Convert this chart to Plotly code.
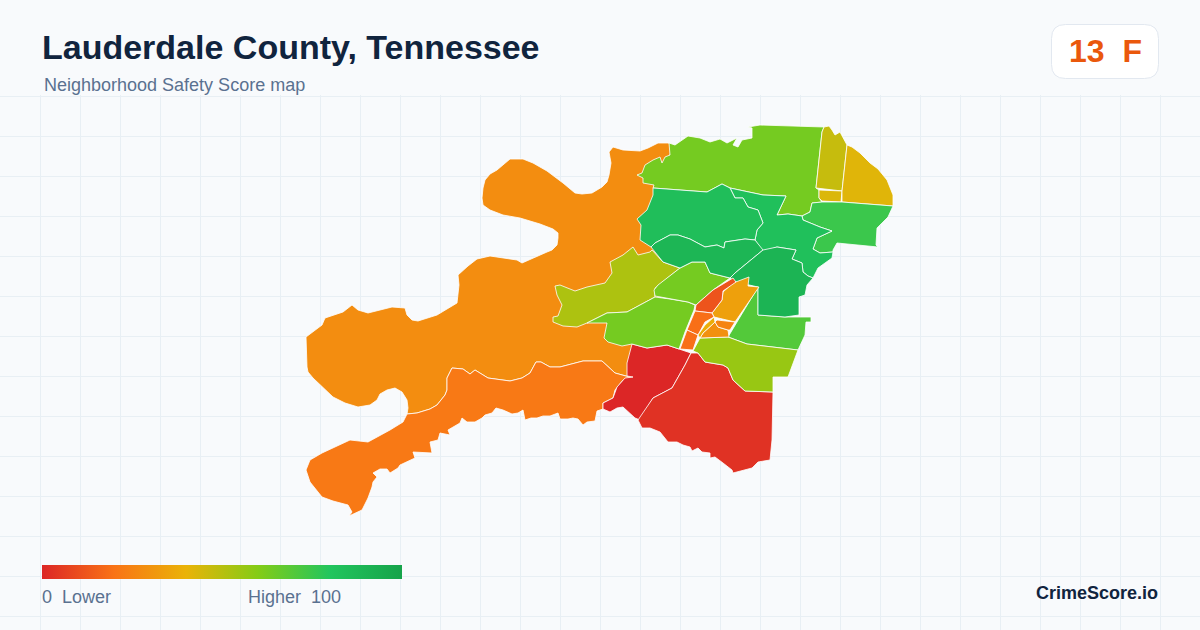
import plotly.graph_objects as go
from plotly.colors import sample_colorscale

W = 1200
H = 630

# Safety score color ramp
color_stops = ['#dc2626', '#f97316', '#eab308', '#84cc16', '#22c55e', '#16a34a']
stop_positions = [0, 0.2, 0.4, 0.6, 0.8, 1]
color_ramp = [[p, c] for p, c in zip(stop_positions, color_stops)]

title_text = 'Lauderdale County, Tennessee'
subtitle_text = 'Neighborhood Safety Score map'
badge_text = '13\u00a0\u00a0F'
scale_low_label = '0\u00a0\u00a0Lower'
scale_high_label = 'Higher\u00a0\u00a0100'
brand_text = 'CrimeScore.io'

# Shared stretch between the two river tracts
river_border = [(407, 414), (417, 413), (430, 409), (437, 405), (445, 395), (447, 390), (447, 378), (452, 368),
                (463, 369), (470, 374), (475, 370), (488, 378), (510, 381), (522, 378), (530, 373), (536, 362),
                (541, 362), (550, 367), (560, 367), (583, 361), (602, 361), (615, 373), (633, 378)]

north_west = [(669, 143), (658, 143), (648, 148), (640, 151), (623, 150), (613, 147), (609, 152), (611, 163),
              (609, 175), (607, 182), (602, 187), (592, 193), (582, 194), (575, 193), (563, 183), (547, 171),
              (533, 163), (523, 159), (510, 159), (497, 170), (490, 174), (485, 180), (483, 188), (482, 198),
              (483, 205), (490, 210), (503, 215), (520, 218), (540, 224), (553, 229), (558, 233), (558, 238),
              (557, 245), (552, 250), (547, 252), (522, 263), (517, 260), (503, 258), (490, 256), (477, 259),
              (468, 266), (458, 275), (459, 285), (457, 303), (437, 315), (418, 321), (412, 320), (407, 315),
              (405, 308), (392, 307), (368, 313), (358, 310), (352, 305), (343, 312), (325, 318), (322, 325),
              (306, 337), (307, 367), (308, 372), (313, 378), (323, 387), (333, 397), (345, 403), (358, 407),
              (370, 405), (377, 400), (380, 394), (387, 390), (395, 388), (402, 392), (407, 400),
              (408, 408)] + river_border + [(640, 345), (660, 300), (660, 180), (672, 150)]

south_west = river_border[::-1] + [(403, 422), (390, 430), (368, 442), (350, 440), (333, 448), (322, 453),
              (310, 460), (306, 470), (310, 482), (322, 497), (333, 501), (348, 505), (352, 512), (349, 516),
              (362, 510), (368, 498), (372, 487), (373, 482), (377, 477), (373, 473), (380, 469), (387, 469),
              (390, 473), (398, 468), (400, 465), (407, 462), (415, 458), (413, 452), (432, 453), (430, 442),
              (438, 440), (440, 433), (450, 435), (448, 430), (460, 423), (462, 418), (467, 422), (475, 422),
              (482, 418), (485, 415), (492, 413), (496, 408), (503, 410), (512, 414), (518, 413), (523, 410),
              (525, 420), (531, 418), (537, 418), (543, 416), (550, 416), (558, 413), (560, 419), (568, 419),
              (573, 418), (578, 419), (583, 425), (587, 422), (595, 421), (597, 411), (603, 409), (603, 403),
              (613, 398), (615, 390), (623, 380)]

red_west = [(632, 344), (647, 348), (667, 345), (678, 349), (691, 353), (685, 365), (678, 378), (672, 388),
            (653, 398), (640, 420), (635, 418), (630, 413), (623, 407), (617, 408), (610, 412), (603, 409),
            (603, 403), (613, 398), (617, 387), (625, 378), (633, 377), (627, 376), (627, 363)]

red_south = [(691, 353), (698, 353), (705, 362), (723, 365), (728, 368), (733, 380), (745, 391), (773, 392),
             (772, 440), (770, 460), (758, 462), (752, 468), (733, 473), (732, 470), (723, 463), (715, 457),
             (710, 458), (710, 453), (702, 452), (698, 448), (692, 451), (690, 447), (683, 445), (677, 442),
             (668, 442), (662, 435), (660, 432), (650, 428), (642, 428), (638, 420), (653, 398), (672, 388),
             (678, 378), (685, 365)]

south_lime = [(693, 351), (700, 338), (728, 337), (747, 344), (798, 350), (788, 377), (773, 377), (773, 392),
              (745, 391), (733, 380), (728, 368), (723, 365), (705, 362), (698, 353)]

south_east = [(728, 337), (758, 287), (758, 315), (785, 317), (811, 317), (811, 322), (806, 322), (805, 335),
              (798, 350), (747, 344)]

sandy = [(555, 286), (560, 285), (575, 291), (587, 287), (605, 283), (612, 273), (610, 262), (623, 255),
         (633, 247), (638, 255), (650, 252), (652, 250), (663, 262), (680, 268), (655, 288), (655, 297),
         (627, 312), (607, 313), (587, 323), (577, 327), (563, 326), (553, 322), (553, 317), (558, 316),
         (562, 305), (557, 295)]

mid_upper = [(658, 285), (680, 268), (692, 262), (705, 262), (710, 273), (730, 278), (713, 290), (696, 305),
             (688, 302), (670, 299), (655, 296), (654, 290)]

mid_lower = [(587, 323), (607, 313), (627, 312), (655, 297), (670, 299), (688, 302), (695, 305), (694, 310),
             (685, 332), (679, 349), (667, 345), (647, 348), (632, 344), (622, 346), (608, 342), (604, 338),
             (607, 323)]

north_lime = [(669, 143), (675, 145), (688, 136), (700, 138), (710, 142), (720, 139), (727, 143), (737, 138),
              (733, 145), (738, 147), (742, 140), (752, 138), (752, 128), (748, 127), (760, 125), (824, 127),
              (822, 132), (816, 188), (819, 190), (819, 198), (822, 202), (812, 203), (810, 212), (802, 216),
              (788, 214), (777, 215), (786, 196), (763, 195), (730, 188), (722, 184), (707, 192), (653, 188),
              (654, 185), (643, 183), (643, 178), (637, 175), (642, 173), (645, 165), (653, 160), (660, 157),
              (662, 163), (665, 157), (670, 155)]

olive_strip = [(824, 127), (829, 126), (832, 130), (835, 135), (840, 132), (847, 145), (842, 191), (819, 189),
               (816, 188), (822, 132)]

yellow_small = [(819, 190), (842, 191), (841, 202), (822, 201), (819, 198)]

yellow_east = [(847, 145), (852, 147), (860, 153), (870, 163), (878, 169), (883, 175), (887, 180), (893, 195),
               (893, 206), (842, 202), (842, 191)]

north_east = [(822, 202), (842, 202), (893, 206), (888, 217), (880, 225), (877, 228), (876, 245), (878, 247),
              (837, 243), (833, 250), (833, 252), (820, 253), (813, 249), (817, 238), (832, 231), (820, 227),
              (803, 220), (802, 216), (810, 212), (812, 203)]

center_green = [(786, 196), (777, 215), (788, 214), (802, 216), (803, 220), (820, 227), (832, 231), (817, 238),
                (813, 249), (820, 253), (833, 252), (832, 258), (818, 268), (813, 278), (808, 276), (803, 272),
                (802, 263), (792, 259), (796, 250), (777, 247), (763, 252), (755, 240), (757, 230), (763, 223),
                (758, 210), (748, 207), (743, 198), (735, 198), (730, 188), (763, 195)]

north_green = [(653, 188), (707, 192), (722, 184), (730, 188), (735, 198), (743, 198), (748, 207), (758, 210),
               (763, 223), (757, 230), (755, 240), (745, 239), (725, 242), (724, 248), (717, 245), (705, 247),
               (690, 239), (678, 235), (670, 235), (655, 243), (651, 247), (640, 240), (641, 225), (637, 219),
               (647, 210), (653, 195)]

mid_green = [(651, 247), (655, 243), (670, 235), (678, 235), (690, 239), (705, 247), (717, 245), (724, 248),
             (725, 242), (745, 239), (755, 240), (763, 250), (735, 273), (730, 278), (710, 273), (705, 262),
             (692, 262), (680, 268), (663, 262)]

south_green = [(763, 250), (777, 247), (796, 250), (792, 259), (802, 263), (803, 272), (808, 276), (813, 278),
               (807, 285), (805, 295), (799, 297), (799, 315), (785, 317), (758, 315), (758, 287), (748, 285),
               (736, 282), (730, 278), (735, 273)]

amber_large = [(733, 283), (749, 277), (748, 286), (759, 287), (735, 322), (720, 318), (714, 317), (712, 313),
               (722, 300), (723, 292)]

strip_red = [(733, 278), (736, 282), (723, 291), (722, 300), (712, 313), (695, 311), (696, 305), (713, 290)]

strip_mid = [(695, 311), (712, 313), (714, 317), (705, 322), (698, 335), (687, 330)]

strip_low = [(687, 330), (698, 335), (693, 350), (680, 349)]

core_yellow = [(714, 317), (715, 322), (703, 333), (700, 338), (698, 335), (705, 325)]

core_orange = [(717, 320), (735, 322), (730, 330), (728, 330), (718, 327), (715, 322)]

core_amber = [(715, 322), (718, 327), (728, 330), (729, 337), (700, 338), (703, 333)]

regions = [north_west, south_west, red_west, red_south, south_east, south_lime, sandy, mid_lower, mid_upper,
           north_lime, olive_strip, yellow_small, yellow_east, north_east, center_green, north_green, mid_green,
           south_green, amber_large, strip_red, strip_mid, strip_low, core_amber, core_orange, core_yellow]

scores = [28, 22, 0, 3, 70, 56, 52, 63, 63,
          63, 47, 43, 42, 75, 83, 84, 89,
          90, 34, 12, 19, 19, 29, 25, 38]

fig = go.Figure()

# Tract polygons, colored by score
for points, score in zip(regions, scores):
    fig.add_trace(go.Scatter(
        x=[p[0] for p in points] + [points[0][0]],
        y=[p[1] for p in points] + [points[0][1]],
        mode='lines',
        fill='toself',
        fillcolor=sample_colorscale(color_ramp, score / 100)[0],
        line=dict(color='#ffffff', width=0.8),
        hoverinfo='skip',
        showlegend=False,
    ))

# Off-canvas markers only carry the color bar
fig.add_trace(go.Scatter(
    x=[-50, -50],
    y=[0, 0],
    mode='markers',
    marker=dict(
        color=[0, 100],
        cmin=0,
        cmax=100,
        colorscale=color_ramp,
        showscale=True,
        colorbar=dict(
            orientation='h',
            lenmode='pixels',
            len=360,
            thicknessmode='pixels',
            thickness=14,
            x=42 / W,
            xanchor='left',
            xpad=0,
            y=1 - 565 / H,
            yanchor='top',
            ypad=0,
            outlinewidth=0,
            borderwidth=0,
            showticklabels=False,
            ticks='',
        ),
    ),
    hoverinfo='skip',
    showlegend=False,
))


def text_at(x, y, text, size, color, bold=False, anchor='left'):
    fig.add_annotation(
        x=x / W, y=1 - y / H, xref='paper', yref='paper',
        text=f'<b>{text}</b>' if bold else text,
        showarrow=False, xanchor=anchor, yanchor='middle',
        xshift=0, align=anchor, borderpad=0,
        font=dict(family='Liberation Sans', size=size, color=color),
    )


text_at(41, 47, title_text, 34, '#10243e', bold=True)
text_at(43, 85, subtitle_text, 18, '#5a7190')
text_at(1105, 51, badge_text, 32, '#ea580c', bold=True, anchor='center')
text_at(41, 597, scale_low_label, 18, '#5a7190')
text_at(342, 597, scale_high_label, 18, '#5a7190', anchor='right')
text_at(1159, 593, brand_text, 18, '#10243e', bold=True, anchor='right')

# Score badge box with rounded corners
bx0, bx1 = 1051.5 / W, 1158.5 / W
by0, by1 = 1 - 24.5 / H, 1 - 78.5 / H
rx, ry = 14 / W, 14 / H
fig.add_shape(
    type='path', xref='paper', yref='paper',
    path=(f'M {bx0 + rx} {by0} L {bx1 - rx} {by0} Q {bx1} {by0} {bx1} {by0 - ry} '
          f'L {bx1} {by1 + ry} Q {bx1} {by1} {bx1 - rx} {by1} '
          f'L {bx0 + rx} {by1} Q {bx0} {by1} {bx0} {by1 + ry} '
          f'L {bx0} {by0 - ry} Q {bx0} {by0} {bx0 + rx} {by0} Z'),
    fillcolor='#ffffff',
    line=dict(color='#e2e8f0', width=1),
    layer='below',
)

fig.update_layout(
    width=W,
    height=H,
    margin=dict(l=0, r=0, t=0, b=0, autoexpand=False),
    paper_bgcolor='#f8fafc',
    plot_bgcolor='#f8fafc',
    showlegend=False,
    xaxis=dict(range=[0, W], tick0=0.5, dtick=40, showgrid=True, gridcolor='#e8eff4', gridwidth=1,
               zeroline=False, showticklabels=False, ticks='', fixedrange=True),
    yaxis=dict(range=[H, 95], domain=[0, 535 / H], tick0=96.5, dtick=40, showgrid=True, gridcolor='#e8eff4',
               gridwidth=1, zeroline=False, showticklabels=False, ticks='', fixedrange=True),
)

fig.write_html('out.html', config={'displayModeBar': False},
               post_script="document.body.style.margin='0';")
